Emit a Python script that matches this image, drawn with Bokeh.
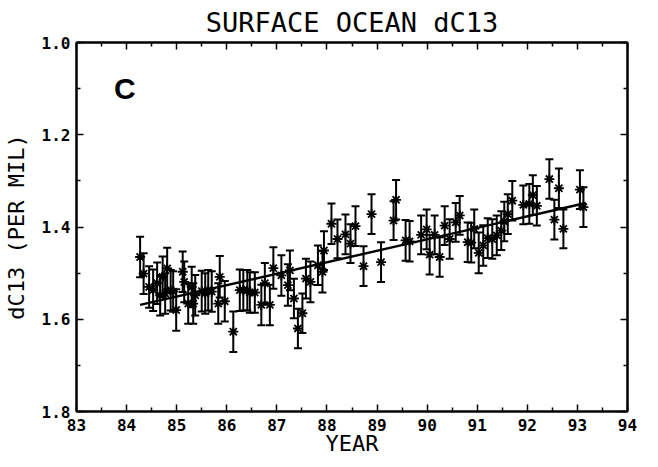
from bokeh.plotting import figure
from bokeh.models import (ColumnDataSource, Whisker, TeeHead, LinearAxis,
                          FixedTicker, Label, Range1d, NumeralTickFormatter)
from bokeh.embed import file_html
from bokeh.resources import INLINE

# ---- data ----
years = [84.27, 84.34, 84.45, 84.53, 84.61, 84.67, 84.72, 84.77, 84.81, 84.88,
         84.93, 84.99, 85.12, 85.15, 85.23, 85.30, 85.33, 85.37, 85.50, 85.57,
         85.63, 85.70, 85.83, 85.86, 85.96, 86.13, 86.26, 86.33, 86.41, 86.46,
         86.56, 86.69, 86.76, 86.86, 86.93, 87.09, 87.22, 87.26, 87.34, 87.42,
         87.51, 87.58, 87.67, 87.82, 87.91, 87.94, 88.09, 88.21, 88.37, 88.47,
         88.57, 88.73, 88.89, 89.08, 89.33, 89.38, 89.57, 89.65, 89.88, 89.99,
         90.05, 90.15, 90.25, 90.35, 90.45, 90.57, 90.65, 90.81, 90.88, 90.94,
         91.03, 91.12, 91.21, 91.30, 91.39, 91.48, 91.54, 91.61, 91.70, 91.92,
         92.04, 92.11, 92.19, 92.44, 92.54, 92.63, 92.72, 93.05, 93.12]
d13c = [1.465, 1.501, 1.530, 1.537, 1.522, 1.548, 1.508, 1.544, 1.490, 1.537,
        1.540, 1.580, 1.497, 1.519, 1.566, 1.530, 1.566, 1.548, 1.539, 1.544,
        1.537, 1.540, 1.566, 1.508, 1.561, 1.627, 1.537, 1.537, 1.537, 1.542,
        1.542, 1.569, 1.522, 1.569, 1.489, 1.505, 1.526, 1.494, 1.555, 1.620,
        1.587, 1.512, 1.519, 1.483, 1.497, 1.451, 1.393, 1.426, 1.416, 1.436,
        1.398, 1.485, 1.372, 1.476, 1.386, 1.341, 1.429, 1.431, 1.417, 1.405,
        1.460, 1.417, 1.465, 1.397, 1.426, 1.390, 1.375, 1.433, 1.434, 1.404,
        1.456, 1.440, 1.424, 1.426, 1.418, 1.408, 1.388, 1.372, 1.343, 1.352,
        1.350, 1.331, 1.354, 1.296, 1.384, 1.316, 1.404, 1.319, 1.357]
err = [0.044, 0.044, 0.045, 0.045, 0.045, 0.044, 0.044, 0.044, 0.045, 0.044,
       0.044, 0.045, 0.044, 0.044, 0.044, 0.044, 0.044, 0.044, 0.044, 0.044,
       0.044, 0.044, 0.044, 0.045, 0.044, 0.044, 0.045, 0.044, 0.044, 0.044,
       0.044, 0.044, 0.044, 0.044, 0.045, 0.044, 0.045, 0.043, 0.043, 0.043,
       0.043, 0.043, 0.044, 0.043, 0.045, 0.042, 0.044, 0.042, 0.043, 0.042,
       0.043, 0.043, 0.043, 0.043, 0.042, 0.043, 0.044, 0.044, 0.042, 0.043,
       0.043, 0.042, 0.043, 0.042, 0.043, 0.042, 0.042, 0.043, 0.043, 0.042,
       0.044, 0.044, 0.043, 0.043, 0.043, 0.042, 0.043, 0.043, 0.043, 0.042,
       0.043, 0.043, 0.043, 0.043, 0.043, 0.043, 0.042, 0.042, 0.043]
trend_years = [84.27, 93.17]
trend_vals = [1.569, 1.348]

x_major = [83, 84, 85, 86, 87, 88, 89, 90, 91, 92, 93, 94]
x_minor = [83.5, 84.5, 85.5, 86.5, 87.5, 88.5, 89.5, 90.5, 91.5, 92.5, 93.5]
y_major = [1.0, 1.2, 1.4, 1.6, 1.8]
y_minor = [1.1, 1.3, 1.5, 1.7]

title_text = "SURFACE OCEAN dC13"
x_label = "YEAR"
y_label = "dC13 (PER MIL)"
panel_letter = "C"

MONO = "DejaVu Sans Mono"

p = figure(width=650, height=459, output_backend="svg", toolbar_location=None,
           x_range=Range1d(83, 94), y_range=Range1d(1.8, 1.0),
           min_border_left=75, min_border_right=23, min_border_top=42,
           min_border_bottom=48)
p.background_fill_color = "white"
p.border_fill_color = "white"
p.outline_line_color = "black"
p.outline_line_width = 2
p.xgrid.visible = False
p.ygrid.visible = False

p.title.text = title_text
p.title.align = "center"
p.title.text_font = MONO
p.title.text_font_size = "27px"
p.title.text_font_style = "normal"
p.title.text_color = "black"
p.title.standoff = 9
p.title.offset = 0

def style_axis(ax, show_labels=True):
    ax.axis_line_color = "black"
    ax.axis_line_width = 2
    ax.major_tick_in = 7
    ax.major_tick_out = 0
    ax.minor_tick_in = 4
    ax.minor_tick_out = 0
    ax.major_tick_line_width = 1.5
    ax.minor_tick_line_width = 1.5
    ax.major_tick_line_color = "black"
    ax.minor_tick_line_color = "black"
    ax.major_label_text_font = MONO
    ax.major_label_text_font_style = "bold"
    if show_labels:
        ax.major_label_text_font_size = "16px"
        ax.major_label_text_color = "black"
    else:
        ax.major_label_text_font_size = "0px"
        ax.major_label_text_color = None
        ax.major_label_standoff = 0

xt = FixedTicker(ticks=x_major, minor_ticks=x_minor)
yt = FixedTicker(ticks=y_major, minor_ticks=y_minor)

p.xaxis.ticker = xt
p.yaxis.ticker = yt
p.yaxis.formatter = NumeralTickFormatter(format="0.0")
style_axis(p.xaxis[0])
style_axis(p.yaxis[0])
p.xaxis.major_label_standoff = 7
p.yaxis.major_label_standoff = 6
p.xaxis.axis_label = x_label
p.yaxis.axis_label = y_label
for ax in (p.xaxis[0], p.yaxis[0]):
    ax.axis_label_text_font = MONO
    ax.axis_label_text_font_size = "22px"
    ax.axis_label_text_font_style = "normal"
    ax.axis_label_text_color = "black"
p.xaxis.axis_label_standoff = -3
p.yaxis.axis_label_standoff = 10

top_ax = LinearAxis(ticker=FixedTicker(ticks=x_major, minor_ticks=x_minor))
style_axis(top_ax, show_labels=False)
p.add_layout(top_ax, "above")
right_ax = LinearAxis(ticker=FixedTicker(ticks=y_major, minor_ticks=y_minor))
style_axis(right_ax, show_labels=False)
p.add_layout(right_ax, "right")

upper = [v + e for v, e in zip(d13c, err)]
lower = [v - e for v, e in zip(d13c, err)]
src = ColumnDataSource(dict(x=years, y=d13c, upper=upper, lower=lower))

whisk = Whisker(source=src, base="x", upper="upper", lower="lower",
                dimension="height", line_color="black", line_width=2,
                upper_head=TeeHead(size=8, line_color="black", line_width=2),
                lower_head=TeeHead(size=8, line_color="black", line_width=2))
p.add_layout(whisk)

p.scatter("x", "y", source=src, marker="asterisk", size=10, line_width=1.8,
          line_color="black")

p.line(trend_years, trend_vals, line_color="black", line_width=2.4)

p.add_layout(Label(x=83.75, y=1.1, text=panel_letter, text_font="Liberation Sans",
                   text_font_style="bold", text_font_size="30px",
                   text_baseline="middle", text_color="black"))

open("out.html", "w").write(file_html(p, INLINE))
